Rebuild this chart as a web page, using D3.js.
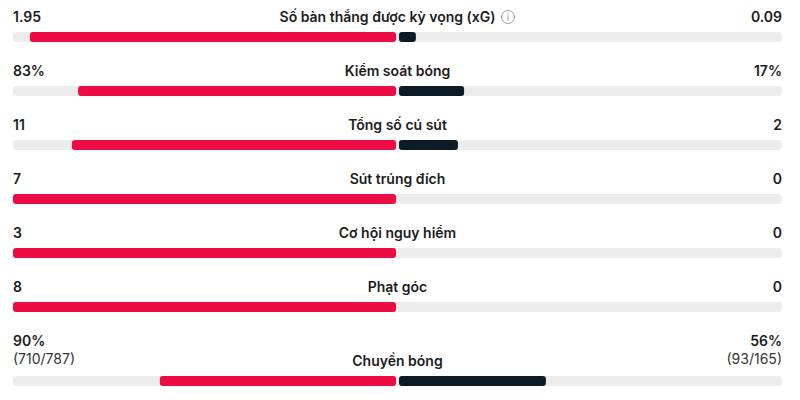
<!DOCTYPE html>
<html>
<head>
<meta charset="utf-8">
<script src="https://cdn.jsdelivr.net/npm/d3@7"></script>
<style>
  body { margin: 0; background: #fff; }
  svg { display: block; font-family: "Inter", "Noto Sans", sans-serif; }
</style>
</head>
<body>
<svg id="viz" width="800" height="400"></svg>
<script>
// match stats, home (red) vs away (dark)
var labels = ['Số bàn thắng được kỳ vọng (xG)', 'Kiểm soát bóng', 'Tổng số cú sút',
  'Sút trúng đích', 'Cơ hội nguy hiểm', 'Phạt góc', 'Chuyền bóng'];
var homeValues = [1.95, 83, 11, 7, 3, 8, 90];
var awayValues = [0.09, 17, 2, 0, 0, 0, 56];
var homeText = ['1.95', '83%', '11', '7', '3', '8', '90%'];
var awayText = ['0.09', '17%', '2', '0', '0', '0', '56%'];
var homeSub = ['', '', '', '', '', '', '(710/787)'];
var awaySub = ['', '', '', '', '', '', '(93/165)'];

var svg = d3.select('#viz');
var left = 13, right = 782, mid = 397.5, gap = 1.5, barH = 10;

// share of total -> pixel length from the centre
var len = d3.scaleLinear().domain([0, 1]).range([0, mid - gap - left]);

var rows = labels.map(function(l, i) {
  return {label: l, h: homeValues[i], a: awayValues[i], ht: homeText[i], at: awayText[i],
    hs: homeSub[i], as: awaySub[i], info: i === 0};
});

// baseline of the label in each row
var rowY = d3.scaleLinear().domain([0, 1]).range([22, 76]);
function baseY(d, i) { return rowY(i) + (d.hs ? 20 : 0); }

var g = svg.selectAll('g.row').data(rows).enter().append('g')
  .attr('class', 'row')
  .attr('transform', function(d, i) { return 'translate(0,' + baseY(d, i) + ')'; });

g.append('rect')
  .attr('x', left).attr('y', 10)
  .attr('width', right - left).attr('height', barH)
  .attr('rx', 3).attr('fill', '#ececec');

g.append('rect')
  .attr('x', function(d) { return mid - gap - len(d.h / (d.h + d.a)); })
  .attr('y', 10)
  .attr('width', function(d) { return len(d.h / (d.h + d.a)); })
  .attr('height', barH).attr('rx', 3).attr('fill', '#ec0b43');

g.filter(function(d) { return d.a > 0; }).append('rect')
  .attr('x', mid + gap)
  .attr('y', 10)
  .attr('width', function(d) { return len(d.a / (d.h + d.a)); })
  .attr('height', barH).attr('rx', 3).attr('fill', '#0b1c28');

// label (with room for the info icon on the first row)
g.append('text')
  .attr('x', function(d) { return d.info ? mid - 10 : mid; })
  .attr('y', 0)
  .attr('text-anchor', 'middle')
  .attr('font-size', 14).attr('font-weight', 600).attr('fill', '#1c1c1c')
  .text(function(d) { return d.label; });

var info = g.filter(function(d) { return d.info; }).append('g')
  .attr('transform', 'translate(508,-5)');
info.append('circle').attr('r', 6.5).attr('fill', 'none').attr('stroke', '#9a9a9a').attr('stroke-width', 1);
info.append('text').attr('y', 3.5).attr('text-anchor', 'middle')
  .attr('font-size', 10).attr('fill', '#9a9a9a').text('i');

// values
g.append('text')
  .attr('x', left).attr('y', function(d) { return d.hs ? -20 : 0; })
  .attr('font-size', 14).attr('font-weight', 600).attr('fill', '#1c1c1c')
  .text(function(d) { return d.ht; });

g.append('text')
  .attr('x', right).attr('y', function(d) { return d.hs ? -20 : 0; })
  .attr('text-anchor', 'end')
  .attr('font-size', 14).attr('font-weight', 600).attr('fill', '#1c1c1c')
  .text(function(d) { return d.at; });

g.filter(function(d) { return d.hs; }).append('text')
  .attr('x', left).attr('y', -2)
  .attr('font-size', 14).attr('fill', '#333')
  .text(function(d) { return d.hs; });

g.filter(function(d) { return d.as; }).append('text')
  .attr('x', right).attr('y', -2)
  .attr('text-anchor', 'end')
  .attr('font-size', 14).attr('fill', '#333')
  .text(function(d) { return d.as; });
</script>
</body>
</html>
